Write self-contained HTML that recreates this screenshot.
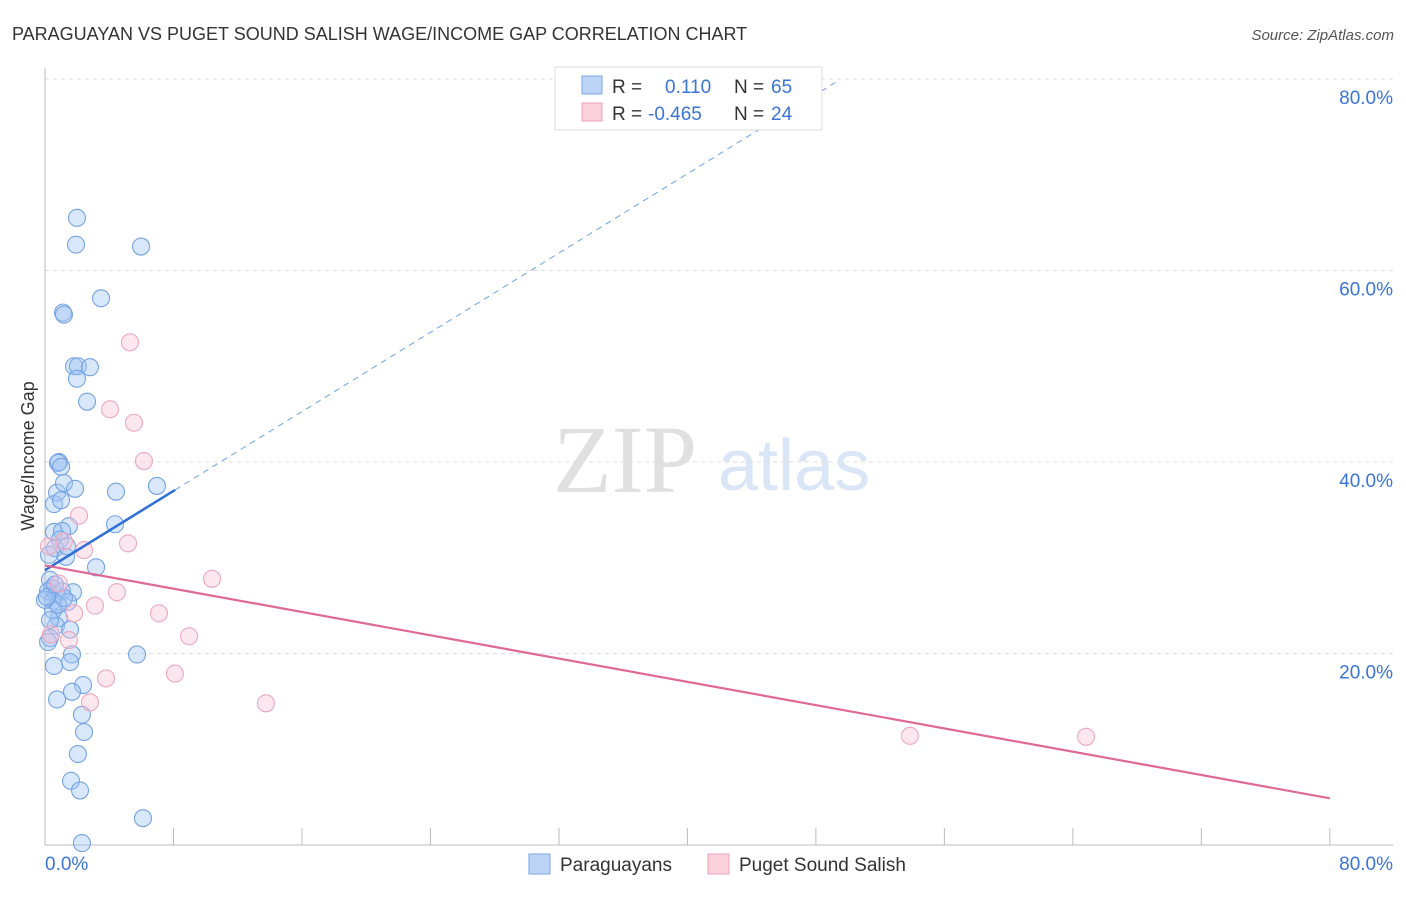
<!DOCTYPE html>
<html><head><meta charset="utf-8"><style>
body{margin:0;background:#fff;font-family:"Liberation Sans",sans-serif}
svg text{font-family:"Liberation Sans",sans-serif}
</style></head><body>
<svg id="chart" width="1406" height="892" xmlns="http://www.w3.org/2000/svg">
<text x="12" y="40" font-size="18" fill="#333">PARAGUAYAN VS PUGET SOUND SALISH WAGE/INCOME GAP CORRELATION CHART</text>
<text x="1394" y="40" font-size="15" fill="#555" text-anchor="end" font-style="italic">Source: ZipAtlas.com</text>
<g>
<text x="553" y="492" font-size="96" style="font-family:'Liberation Serif',serif" fill="#e0e0e0">ZIP</text>
<text x="718" y="490" font-size="72" fill="#dae6f6">atlas</text>
</g>
<g id="grid"></g>
<g id="axes"></g>
<g id="pts"></g>
<g id="trends"></g>
<text transform="translate(34,456) rotate(-90)" font-size="18" fill="#333" text-anchor="middle">Wage/Income Gap</text>
<g>
<rect x="555" y="67" width="267" height="63" fill="#fff" stroke="#ddd"/>
<rect x="582" y="76" width="20" height="18" fill="#bcd4f5" stroke="#7aa6e6"/>
<rect x="582" y="103" width="20" height="18" fill="#fbd0dc" stroke="#eea4bb"/>
<text x="612" y="93" font-size="19" fill="#333">R =</text><text x="665" y="93" font-size="19" fill="#3a74d4">0.110</text>
<text x="734" y="93" font-size="19" fill="#333">N =</text><text x="771" y="93" font-size="19" fill="#3a74d4">65</text>
<text x="612" y="120" font-size="19" fill="#333">R =</text><text x="648" y="120" font-size="19" fill="#3a74d4">-0.465</text>
<text x="734" y="120" font-size="19" fill="#333">N =</text><text x="771" y="120" font-size="19" fill="#3a74d4">24</text>
</g>
<g>
<rect x="529" y="854" width="21" height="20" fill="#bcd4f5" stroke="#7aa6e6"/>
<text x="560" y="871" font-size="19" fill="#333">Paraguayans</text>
<rect x="708" y="854" width="21" height="20" fill="#fbd0dc" stroke="#eea4bb"/>
<text x="739" y="871" font-size="19" fill="#333">Puget Sound Salish</text>
</g>
</svg>
<script>
const blueX=[1.99,1.93,5.98,3.49,1.12,1.18,1.81,2.05,2.80,1.99,2.62,0.87,0.81,1.00,4.42,6.97,0.75,1.18,1.87,0.56,1.00,1.49,4.36,0.56,1.06,0.93,0.62,1.31,0.25,3.18,0.31,0.44,0.19,0.68,1.06,1.74,0.50,1.43,0.87,0.68,1.56,0.31,0.19,1.68,1.56,5.73,0.56,2.37,1.68,0.75,2.30,2.43,2.05,1.62,2.18,6.10,2.30,0.50,0.81,0.31,0.0,0.12,0.62,1.18,1.37];
const blueY=[65.5,62.7,62.5,57.1,55.6,55.4,50.0,50.0,49.9,48.7,46.3,40.0,39.9,39.5,36.9,37.5,36.8,37.8,37.2,35.6,36.0,33.3,33.5,32.7,32.8,31.9,31.0,30.1,30.3,29.0,27.7,26.8,26.5,26.2,26.5,26.4,25.5,25.4,23.7,22.9,22.5,21.6,21.2,19.9,19.1,19.9,18.7,16.7,16.0,15.2,13.6,11.8,9.5,6.7,5.7,2.8,0.2,24.5,25.1,23.5,25.6,25.9,27.2,25.8,31.2];
const pinkX=[5.29,4.05,5.54,6.16,2.12,5.17,2.43,1.18,0.25,0.87,4.48,10.40,3.11,1.81,7.10,8.97,1.49,0.37,3.80,8.09,2.80,13.76,53.86,64.82];
const pinkY=[52.5,45.5,44.1,40.1,34.4,31.5,30.8,31.7,31.2,27.3,26.4,27.8,25.0,24.2,24.2,21.8,21.4,22.0,17.4,17.9,14.9,14.8,11.4,11.3];
const yTicks=[20,40,60,80];
const yTickLabels=["20.0%","40.0%","60.0%","80.0%"];
const xTicks=[0,8,16,24,32,40,48,56,64,72,80];
const blueTrend=[28.7,1.035,8.1,49.2]; // intercept, slope, solid end x, dashed end x
const pinkTrend=[29.2,-0.304,80];
const X=v=>45+v*16.06, Y=v=>845-v*9.575;
const NS="http://www.w3.org/2000/svg";
function mk(p,t,a){const e=document.createElementNS(NS,t);for(const k in a)e.setAttribute(k,a[k]);p.appendChild(e);return e;}
const grid=document.getElementById('grid'),axes=document.getElementById('axes');
yTicks.forEach((t,i)=>{
 const l=mk(grid,'line',{x1:45,x2:1393,y1:Y(t),y2:Y(t),stroke:'#ddd','stroke-dasharray':'4,4'});
 
 
 const tx=mk(axes,'text',{x:1393,y:Y(t)+25,'font-size':19,fill:'#3a74d4','text-anchor':'end'});
 tx.textContent=yTickLabels[i];
 
 
});
mk(axes,'line',{x1:45,x2:45,y1:68,y2:845,stroke:'#bbb'});
mk(axes,'line',{x1:45,x2:1393,y1:845,y2:845,stroke:'#bbb'});
xTicks.forEach(t=>{const l=mk(axes,'line',{x1:X(t),x2:X(t),y1:828,y2:845,stroke:'#bbb'});
 
 });
let a=mk(axes,'text',{x:45,y:870,'font-size':19,fill:'#3a74d4'});a.textContent='0.0%';

let b=mk(axes,'text',{x:1393,y:870,'font-size':19,fill:'#3a74d4','text-anchor':'end'});b.textContent='80.0%';

const pts=document.getElementById('pts');
blueX.forEach((x,i)=>{const c=mk(pts,'circle',{cx:X(x),cy:Y(blueY[i]),r:8.5,fill:'rgba(160,196,242,0.4)',stroke:'#75a3e4','stroke-width':1.1});
 
 });
pinkX.forEach((x,i)=>{const c=mk(pts,'circle',{cx:X(x),cy:Y(pinkY[i]),r:8.5,fill:'rgba(248,195,212,0.4)',stroke:'#eca8bd','stroke-width':1.1});
 
 });
const tr=document.getElementById('trends');
const f=(t,x)=>t[0]+t[1]*x;
let l1=mk(tr,'line',{x1:X(0),y1:Y(f(blueTrend,0)),x2:X(blueTrend[2]),y2:Y(f(blueTrend,blueTrend[2])),stroke:'#2f6fd6','stroke-width':2.5});

let l2=mk(tr,'line',{x1:X(blueTrend[2]),y1:Y(f(blueTrend,blueTrend[2])),x2:X(blueTrend[3]),y2:Y(f(blueTrend,blueTrend[3])),stroke:'#6f9fe0','stroke-width':1,'stroke-dasharray':'6,5'});

let l3=mk(tr,'line',{x1:X(0),y1:Y(f(pinkTrend,0)),x2:X(pinkTrend[2]),y2:Y(f(pinkTrend,pinkTrend[2])),stroke:'#e06896','stroke-width':2.2});

</script>
</body></html>
